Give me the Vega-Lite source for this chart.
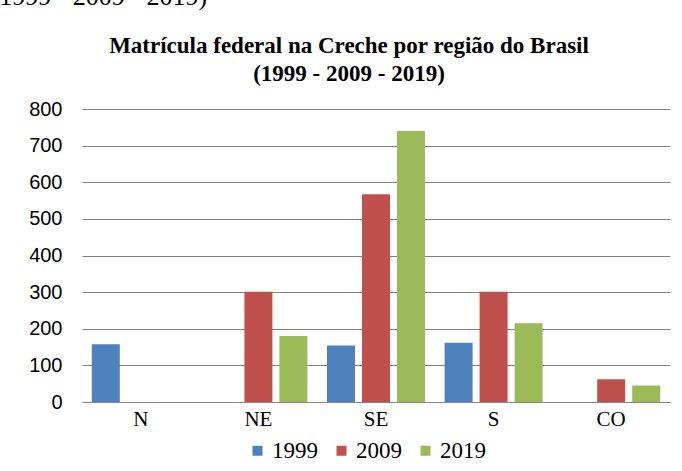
{
  "$schema": "https://vega.github.io/schema/vega-lite/v6.json",
  "autosize": {"type": "none"},
  "width": 588,
  "height": 293,
  "padding": {"left": 82, "top": 109, "right": 12, "bottom": 69},
  "background": "white",
  "title": {
    "text": ["Matrícula federal na Creche por região do Brasil", "(1999 - 2009 - 2019)"],
    "font": "Liberation Serif",
    "fontSize": 23,
    "fontWeight": "bold",
    "color": "black",
    "anchor": "middle",
    "dx": -27,
    "dy": 103,
    "offset": 0,
    "lineHeight": 28
  },
  "data": {
    "values": [
      {"region": "N", "year": "1999", "value": 158},
      {"region": "N", "year": "2009", "value": 0},
      {"region": "N", "year": "2019", "value": 0},
      {"region": "NE", "year": "1999", "value": 0},
      {"region": "NE", "year": "2009", "value": 301},
      {"region": "NE", "year": "2019", "value": 180},
      {"region": "SE", "year": "1999", "value": 154},
      {"region": "SE", "year": "2009", "value": 567},
      {"region": "SE", "year": "2019", "value": 740},
      {"region": "S", "year": "1999", "value": 162},
      {"region": "S", "year": "2009", "value": 301},
      {"region": "S", "year": "2019", "value": 215},
      {"region": "CO", "year": "1999", "value": 0},
      {"region": "CO", "year": "2009", "value": 62},
      {"region": "CO", "year": "2019", "value": 45}
    ]
  },
  "mark": {"type": "bar"},
  "encoding": {
    "x": {
      "field": "region",
      "type": "nominal",
      "sort": ["N", "NE", "SE", "S", "CO"],
      "scale": {"paddingInner": 0.107, "paddingOuter": 0.0535},
      "axis": {
        "title": null,
        "labelAngle": 0,
        "labelFont": "Liberation Serif",
        "labelFontSize": 21,
        "labelColor": "black",
        "labelPadding": 6,
        "ticks": false,
        "domainColor": "#868686",
        "domainWidth": 1
      }
    },
    "xOffset": {
      "field": "year",
      "type": "nominal",
      "scale": {"paddingInner": 0.2, "paddingOuter": 0.1}
    },
    "y": {
      "field": "value",
      "type": "quantitative",
      "scale": {"domain": [0, 800], "nice": false},
      "axis": {
        "values": [0, 100, 200, 300, 400, 500, 600, 700, 800],
        "title": "(1999 - 2009 - 2019)",
        "titleAngle": 0,
        "titleX": -92,
        "titleY": -105,
        "titleAlign": "left",
        "titleBaseline": "alphabetic",
        "titleFont": "Liberation Serif",
        "titleFontSize": 26,
        "titleFontWeight": "normal",
        "titleColor": "black",
        "labelFont": "Liberation Sans",
        "labelFontSize": 20,
        "labelColor": "black",
        "labelPadding": 20,
        "ticks": false,
        "domain": false,
        "gridColor": "#808080",
        "gridWidth": 1,
        "gridOpacity": 1
      }
    },
    "color": {
      "field": "year",
      "type": "nominal",
      "scale": {"domain": ["1999", "2009", "2019"], "range": ["#4F81BD", "#C0504D", "#9BBB59"]},
      "legend": {
        "title": null,
        "orient": "none",
        "direction": "horizontal",
        "legendX": 164,
        "legendY": 330,
        "symbolType": "square",
        "symbolSize": 100,
        "symbolStrokeWidth": 0,
        "labelFont": "Liberation Serif",
        "labelFontSize": 23,
        "labelColor": "black",
        "labelOffset": 3,
        "columnPadding": 12
      }
    }
  },
  "config": {
    "view": {"stroke": null}
  }
}
